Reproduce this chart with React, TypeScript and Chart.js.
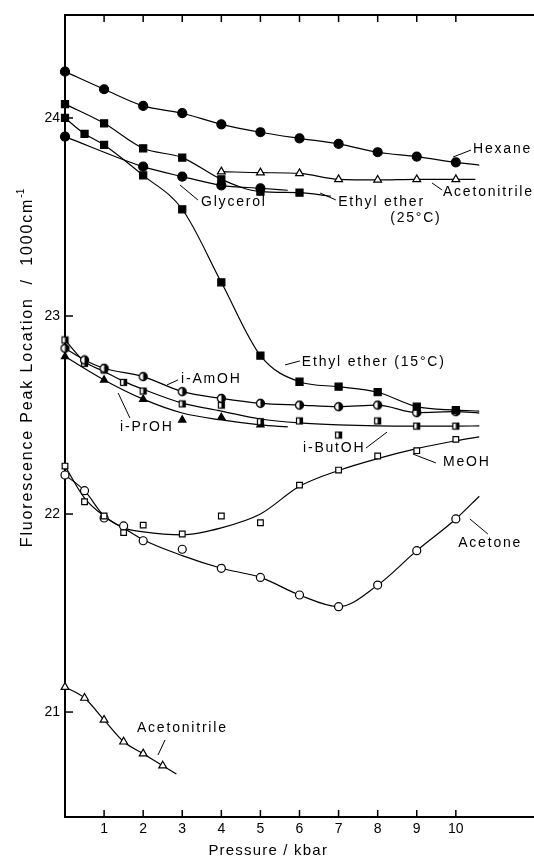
import React, { useEffect, useRef } from 'react';
import { Chart, registerables } from 'chart.js';

Chart.register(...registerables);

// ---------- data (pressure in kbar, peak location in 1000 cm^-1) ----------
const X_TICKS = [1, 2, 3, 4, 5, 6, 7, 8, 9, 10];
const Y_TICKS = [21, 22, 23, 24];

const hexaneP = [0, 1, 2, 3, 4, 5, 6, 7, 8, 9, 10];
const hexaneV = [24.234, 24.145, 24.061, 24.024, 23.968, 23.928, 23.897, 23.869, 23.827, 23.805, 23.776];
const hexaneEnd = [10.6, 23.762];

const acnHighP = [4, 5, 6, 7, 8, 9, 10];
const acnHighV = [23.729, 23.724, 23.72, 23.69, 23.687, 23.69, 23.69];
const acnHighEnd = [10.5, 23.69];

const ether25P = [0, 1, 2, 3, 4, 5, 6];
const ether25V = [24.07, 23.973, 23.847, 23.8, 23.69, 23.628, 23.623];
const ether25End = [6.8, 23.605];

const glycerolP = [0, 2, 3, 4, 5];
const glycerolV = [23.906, 23.754, 23.704, 23.66, 23.645];
const glycerolEnd = [5.7, 23.635];

const ether15P = [0, 0.5, 1, 2, 3, 4, 5, 6, 7, 8, 9, 10];
const ether15V = [24.0, 23.92, 23.864, 23.71, 23.539, 23.17, 22.8, 22.668, 22.643, 22.615, 22.542, 22.525];
const ether15End = [10.6, 22.52];

const amohP = [0, 0.5, 1, 2, 3, 4, 5, 6, 7, 8, 9, 10];
const amohV = [22.837, 22.778, 22.736, 22.694, 22.618, 22.584, 22.559, 22.55, 22.542, 22.55, 22.512, 22.517];
const amohEnd = [10.6, 22.51];

const butohP = [0, 0.5, 1, 1.5, 2, 3, 4, 5, 6, 7, 8, 9, 10];
const butohV = [22.879, 22.761, 22.727, 22.665, 22.621, 22.556, 22.55, 22.466, 22.47, 22.399, 22.47, 22.444, 22.444];
const butohCurveP = [0, 0.5, 1, 1.5, 2, 3, 4, 5, 6, 7, 8, 9, 10, 10.6];
const butohCurveV = [22.879, 22.77, 22.72, 22.67, 22.63, 22.56, 22.52, 22.48, 22.46, 22.45, 22.445, 22.444, 22.444, 22.445];

const prohP = [0, 1, 2, 3, 4, 5];
const prohV = [22.795, 22.677, 22.579, 22.475, 22.488, 22.45];
const prohCurveP = [0, 1, 2, 3, 4, 5, 5.7];
const prohCurveV = [22.795, 22.677, 22.58, 22.51, 22.475, 22.45, 22.44];

const meohP = [0, 0.5, 1, 1.5, 2, 3, 4, 5, 6, 7, 8, 9, 10];
const meohV = [22.242, 22.062, 21.99, 21.906, 21.944, 21.899, 21.99, 21.956, 22.146, 22.222, 22.293, 22.32, 22.377];
const meohCurveP = [0, 0.5, 1, 1.5, 2, 3, 4, 5, 6, 7, 8, 9, 10, 10.6];
const meohCurveV = [22.242, 22.08, 21.99, 21.93, 21.91, 21.895, 21.93, 22.0, 22.14, 22.22, 22.28, 22.33, 22.37, 22.39];

const acetoneP = [0, 0.5, 1, 1.5, 2, 3, 4, 5, 6, 7, 8, 9, 10];
const acetoneV = [22.197, 22.118, 21.98, 21.94, 21.865, 21.822, 21.726, 21.68, 21.591, 21.532, 21.641, 21.815, 21.975];
const acetoneCurveP = [0, 0.5, 1, 1.5, 2, 3, 4, 5, 6, 7, 8, 9, 10, 10.6];
const acetoneCurveV = [22.197, 22.118, 21.99, 21.93, 21.87, 21.79, 21.726, 21.68, 21.591, 21.532, 21.641, 21.815, 21.975, 22.09];

const acnLowP = [0, 0.5, 1, 1.5, 2, 2.5];
const acnLowV = [21.126, 21.071, 20.96, 20.85, 20.79, 20.729];
const acnLowEnd = [2.85, 20.687];

// labels with leader lines (data coordinates)
const LABELS = [
  { text: 'Hexane', x: 10.44, y: 23.843, from: [9.93, 23.803], to: [10.39, 23.838] },
  { text: 'Acetonitrile', x: 9.67, y: 23.626, from: [9.39, 23.672], to: [9.65, 23.636] },
  { text: 'Ethyl ether', x: 6.99, y: 23.576, from: [6.53, 23.621], to: [6.93, 23.586] },
  { text: '(25°C)', x: 8.32, y: 23.495, from: null, to: null },
  { text: 'Glycerol', x: 3.48, y: 23.576, from: [2.94, 23.662], to: [3.4, 23.586] },
  { text: 'Ethyl ether (15°C)', x: 6.06, y: 22.768, from: [5.63, 22.753], to: [6.01, 22.773] },
  { text: 'i-AmOH', x: 2.97, y: 22.682, from: [2.61, 22.652], to: [2.89, 22.677] },
  { text: 'i-PrOH', x: 1.41, y: 22.439, from: [1.36, 22.611], to: [1.66, 22.485] },
  { text: 'i-ButOH', x: 6.09, y: 22.333, from: [7.7, 22.333], to: [8.24, 22.414] },
  { text: 'MeOH', x: 9.67, y: 22.263, from: [8.9, 22.303], to: [9.49, 22.258] },
  { text: 'Acetone', x: 10.06, y: 21.854, from: [10.36, 21.975], to: [10.82, 21.899] },
  { text: 'Acetonitrile', x: 1.84, y: 20.919, from: [2.56, 20.859], to: [2.38, 20.783] },
];

const X_TITLE = 'Pressure / kbar';
const Y_TITLE = 'Fluorescence Peak Location  /  1000cm';
const Y_TITLE_SUP = '-1';

const FONT = '"Liberation Sans", Arial, sans-serif';

function pts(xs: number[], ys: number[], end?: number[]) {
  const d = xs.map((x, i) => ({ x, y: ys[i] }));
  if (end) d.push({ x: end[0], y: end[1] });
  return d;
}

function halfCircle(): HTMLCanvasElement {
  const c = document.createElement('canvas');
  c.width = 11; c.height = 11;
  const g = c.getContext('2d')!;
  g.fillStyle = '#fff';
  g.beginPath(); g.arc(5.5, 5.5, 4, 0, Math.PI * 2); g.fill();
  g.fillStyle = '#000';
  g.beginPath(); g.arc(5.5, 5.5, 4, -Math.PI / 2, Math.PI / 2); g.closePath(); g.fill();
  g.strokeStyle = '#000'; g.lineWidth = 1.3;
  g.beginPath(); g.arc(5.5, 5.5, 4, 0, Math.PI * 2); g.stroke();
  return c;
}

function halfSquare(): HTMLCanvasElement {
  const c = document.createElement('canvas');
  c.width = 9; c.height = 9;
  const g = c.getContext('2d')!;
  g.fillStyle = '#fff'; g.fillRect(1, 1, 7, 7);
  g.fillStyle = '#000'; g.fillRect(4.5, 1, 3.5, 7);
  g.strokeStyle = '#000'; g.lineWidth = 1.2; g.strokeRect(1.5, 1.5, 6, 6);
  return c;
}

const decorPlugin = {
  id: 'decor',
  afterDraw(chart: any) {
    const ctx: CanvasRenderingContext2D = chart.ctx;
    const xs = chart.scales.x;
    const ys = chart.scales.y;
    const { top, bottom, left } = chart.chartArea;
    const line = (x1: number, y1: number, x2: number, y2: number) => {
      ctx.beginPath(); ctx.moveTo(x1, y1); ctx.lineTo(x2, y2); ctx.stroke();
    };
    ctx.save();
    ctx.strokeStyle = '#000';
    ctx.lineWidth = 1.5;
    X_TICKS.forEach((v) => {
      const px = xs.getPixelForValue(v);
      line(px, bottom, px, bottom - 7);
      line(px, top, px, top + 7);
    });
    Y_TICKS.forEach((v) => {
      const py = ys.getPixelForValue(v);
      line(left, py, left + 8, py);
    });

    // labels
    ctx.lineWidth = 1;
    ctx.fillStyle = '#000';
    ctx.font = `14px ${FONT}`;
    (ctx as any).letterSpacing = '1.8px';
    ctx.textAlign = 'left';
    ctx.textBaseline = 'middle';
    LABELS.forEach((l) => {
      ctx.fillText(l.text, xs.getPixelForValue(l.x), ys.getPixelForValue(l.y));
      if (l.from && l.to) {
        line(xs.getPixelForValue(l.from[0]), ys.getPixelForValue(l.from[1]),
          xs.getPixelForValue(l.to[0]), ys.getPixelForValue(l.to[1]));
      }
    });

    // x title
    (ctx as any).letterSpacing = '1.2px';
    ctx.font = `15px ${FONT}`;
    ctx.textAlign = 'center';
    ctx.fillText(X_TITLE, xs.getPixelForValue(5.2), bottom + 34);

    // y title (rotated)
    ctx.font = `16px ${FONT}`;
    (ctx as any).letterSpacing = '1.85px';
    const w1 = ctx.measureText(Y_TITLE).width;
    ctx.font = `10px ${FONT}`;
    (ctx as any).letterSpacing = '0px';
    const w2 = ctx.measureText(Y_TITLE_SUP).width;
    const total = w1 + w2;
    ctx.translate(28, 368);
    ctx.rotate(-Math.PI / 2);
    ctx.textAlign = 'left';
    ctx.textBaseline = 'middle';
    ctx.font = `16px ${FONT}`;
    (ctx as any).letterSpacing = '1.85px';
    ctx.fillText(Y_TITLE, -total / 2, 0);
    ctx.font = `10px ${FONT}`;
    (ctx as any).letterSpacing = '0px';
    ctx.fillText(Y_TITLE_SUP, -total / 2 + w1, -7);
    ctx.restore();
  },
};

export default function App() {
  const ref = useRef<HTMLCanvasElement>(null);
  useEffect(() => {
    if (!ref.current) return;
    Chart.defaults.font.family = FONT;
    const hc = halfCircle();
    const hs = halfSquare();
    const marker = (data: any[], style: any, radius: number, fill: string) => ({
      data, showLine: false, pointStyle: style, pointRadius: radius, pointHoverRadius: radius,
      pointBackgroundColor: fill, pointBorderColor: '#000', pointBorderWidth: 1.2, clip: false,
    });
    const curve = (data: any[]) => ({
      data, showLine: true, pointRadius: 0, pointHoverRadius: 0, borderColor: '#000', borderWidth: 1.2,
      cubicInterpolationMode: 'monotone', fill: false, clip: false,
    });
    const chart = new Chart(ref.current, {
      type: 'scatter',
      data: {
        datasets: [
          marker(pts(hexaneP, hexaneV), 'circle', 4.5, '#000'),
          marker(pts(acnHighP, acnHighV), 'triangle', 4.5, '#fff'),
          marker(pts(ether25P, ether25V), 'rect', 5, '#000'),
          marker(pts(glycerolP, glycerolV), 'circle', 4.5, '#000'),
          marker(pts(ether15P, ether15V), 'rect', 5, '#000'),
          marker(pts(amohP, amohV), hc, 5, '#000'),
          marker(pts(butohP, butohV), hs, 4, '#000'),
          marker(pts(prohP, prohV), 'triangle', 4.2, '#000'),
          marker(pts(meohP, meohV), 'rect', 4, '#fff'),
          marker(pts(acetoneP, acetoneV), 'circle', 4, '#fff'),
          marker(pts(acnLowP, acnLowV), 'triangle', 4.5, '#fff'),
          curve(pts(hexaneP, hexaneV, hexaneEnd)),
          curve(pts(acnHighP, acnHighV, acnHighEnd)),
          curve(pts(ether25P, ether25V, ether25End)),
          curve(pts(glycerolP, glycerolV, glycerolEnd)),
          curve(pts(ether15P, ether15V, ether15End)),
          curve(pts(amohP, amohV, amohEnd)),
          curve(pts(butohCurveP, butohCurveV)),
          curve(pts(prohCurveP, prohCurveV)),
          curve(pts(meohCurveP, meohCurveV)),
          curve(pts(acetoneCurveP, acetoneCurveV)),
          curve(pts(acnLowP, acnLowV, acnLowEnd)),
        ] as any,
      },
      options: {
        responsive: false,
        animation: false,
        events: [],
        layout: { padding: 0, autoPadding: false },
        plugins: { legend: { display: false }, tooltip: { enabled: false } },
        scales: {
          x: {
            type: 'linear', position: 'bottom', min: 0, max: 12,
            afterBuildTicks: (ax: any) => { ax.ticks = X_TICKS.map((v) => ({ value: v })); },
            afterFit: (s: any) => { s.height = 45; s.paddingRight = 0; s.paddingLeft = 0; },
            grid: { display: false, drawOnChartArea: false, drawTicks: false },
            border: { display: true, color: '#000', width: 2 },
            ticks: { color: '#000', font: { size: 14, family: FONT }, padding: 4, maxRotation: 0, autoSkip: false },
          },
          x2: {
            type: 'linear', position: 'top', min: 0, max: 12,
            afterFit: (s: any) => { s.height = 15; s.paddingRight = 0; s.paddingLeft = 0; },
            ticks: { display: false },
            grid: { display: false, drawOnChartArea: false, drawTicks: false },
            border: { display: true, color: '#000', width: 2 },
          },
          y: {
            type: 'linear', position: 'left', min: 20.47, max: 24.52,
            afterBuildTicks: (ax: any) => { ax.ticks = Y_TICKS.map((v) => ({ value: v })); },
            afterFit: (s: any) => { s.width = 65; s.paddingTop = 0; s.paddingBottom = 0; },
            grid: { display: false, drawOnChartArea: false, drawTicks: false },
            border: { display: true, color: '#000', width: 2 },
            ticks: { color: '#000', font: { size: 14, family: FONT }, padding: 5 },
          },
        },
      } as any,
      plugins: [decorPlugin],
    });
    return () => chart.destroy();
  }, []);
  return (
    <div style={{ position: 'fixed', left: 0, top: 0, width: 534, height: 862, background: '#fff' }}>
      <canvas ref={ref} width={534} height={862} style={{ display: 'block' }} />
    </div>
  );
}
